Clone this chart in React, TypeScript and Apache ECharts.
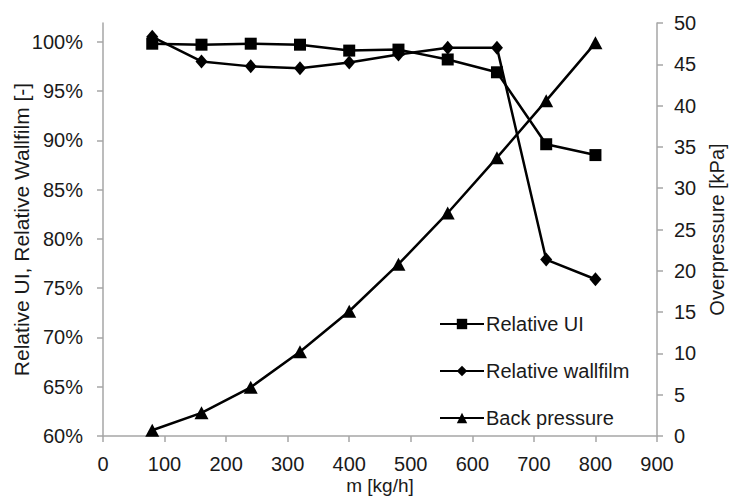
import React, { useEffect, useRef } from "react";
import * as echarts from "echarts";

const massFlow = [80, 160, 240, 320, 400, 480, 560, 640, 720, 800];
const relativeUI = [0.998, 0.997, 0.998, 0.997, 0.991, 0.992, 0.982, 0.969, 0.896, 0.885];
const relativeWallfilm = [1.005, 0.98, 0.975, 0.973, 0.979, 0.987, 0.994, 0.994, 0.779, 0.759];
const backPressure = [0.7, 2.8, 5.9, 10.2, 15.1, 20.8, 27.0, 33.7, 40.6, 47.6];
const leftTicks = [0.6, 0.65, 0.7, 0.75, 0.8, 0.85, 0.9, 0.95, 1.0];

const FONT = "Liberation Sans, Arial, sans-serif";
const AXIS_COLOR = "#a6a6a6";
const TEXT_COLOR = "#1a1a1a";

export default function App() {
  const ref = useRef<HTMLDivElement>(null);
  useEffect(() => {
    if (!ref.current) return;
    const chart = echarts.init(ref.current, undefined, { renderer: "svg" });
    const pair = (ys: number[]) => massFlow.map((x, i) => [x, ys[i]]);
    const lineCommon = {
      type: "line",
      lineStyle: { color: "#000", width: 2.5 },
      itemStyle: { color: "#000" },
      symbolKeepAspect: true,
    };
    chart.setOption({
      animation: false,
      backgroundColor: "#fff",
      textStyle: { fontFamily: FONT },
      grid: { left: 103, right: 72, top: 23, bottom: 61, containLabel: false, outerBoundsMode: "none" },
      legend: {
        orient: "vertical",
        left: 434,
        top: 309,
        itemWidth: 44,
        itemHeight: 13,
        itemGap: 27,
        textStyle: { fontSize: 20, color: TEXT_COLOR, fontFamily: FONT, padding: [0, 0, 0, -3] },
        data: ["Relative UI", "Relative wallfilm", "Back pressure"],
      },
      xAxis: {
        type: "value",
        min: 0,
        max: 900,
        interval: 100,
        name: "m [kg/h]",
        nameLocation: "middle",
        nameGap: 40,
        nameMoveOverlap: false,
        nameTextStyle: { fontSize: 19, color: TEXT_COLOR, fontFamily: FONT },
        axisLine: { lineStyle: { color: AXIS_COLOR, width: 1.5 } },
        axisTick: { show: true, length: 6, lineStyle: { color: AXIS_COLOR, width: 1.5 } },
        axisLabel: { fontSize: 20, color: TEXT_COLOR, margin: 18, fontFamily: FONT },
        splitLine: { show: false },
      },
      yAxis: [
        {
          type: "value",
          min: 0.6,
          max: 1.019,
          position: "left",
          name: "Relative UI, Relative Wallfilm [-]",
          nameLocation: "middle",
          nameGap: 71,
          nameMoveOverlap: false,
          nameTextStyle: { fontSize: 21, color: TEXT_COLOR, fontFamily: FONT },
          axisLine: { show: true, lineStyle: { color: AXIS_COLOR, width: 1.5 } },
          axisTick: { show: true, length: 6, customValues: leftTicks, lineStyle: { color: AXIS_COLOR, width: 1.5 } },
          axisLabel: {
            fontSize: 20,
            color: TEXT_COLOR,
            margin: 20,
            fontFamily: FONT,
            customValues: leftTicks,
            formatter: (v: number) => Math.round(v * 100) + "%",
          },
          splitLine: { show: false },
        },
        {
          type: "value",
          min: 0,
          max: 50,
          interval: 5,
          position: "right",
          name: "Overpressure [kPa]",
          nameLocation: "middle",
          nameGap: 50,
          nameMoveOverlap: false,
          nameRotate: 90,
          nameTextStyle: { fontSize: 20, color: TEXT_COLOR, fontFamily: FONT },
          axisLine: { show: true, lineStyle: { color: AXIS_COLOR, width: 1.5 } },
          axisTick: { show: true, length: 6, lineStyle: { color: AXIS_COLOR, width: 1.5 } },
          axisLabel: { fontSize: 20, color: TEXT_COLOR, margin: 17, fontFamily: FONT },
          splitLine: { show: false },
        },
      ],
      series: [
        {
          ...lineCommon,
          name: "Relative UI",
          yAxisIndex: 0,
          symbol: "rect",
          symbolSize: 12,
          data: pair(relativeUI),
        },
        {
          ...lineCommon,
          name: "Relative wallfilm",
          yAxisIndex: 0,
          symbol: "diamond",
          symbolSize: [12, 14],
          data: pair(relativeWallfilm),
        },
        {
          ...lineCommon,
          name: "Back pressure",
          yAxisIndex: 1,
          symbol: "triangle",
          symbolSize: [14, 13],
          data: pair(backPressure),
        },
      ],
    });
    return () => chart.dispose();
  }, []);
  return <div ref={ref} style={{ width: 729, height: 497, position: "absolute", left: 0, top: 0 }} />;
}
